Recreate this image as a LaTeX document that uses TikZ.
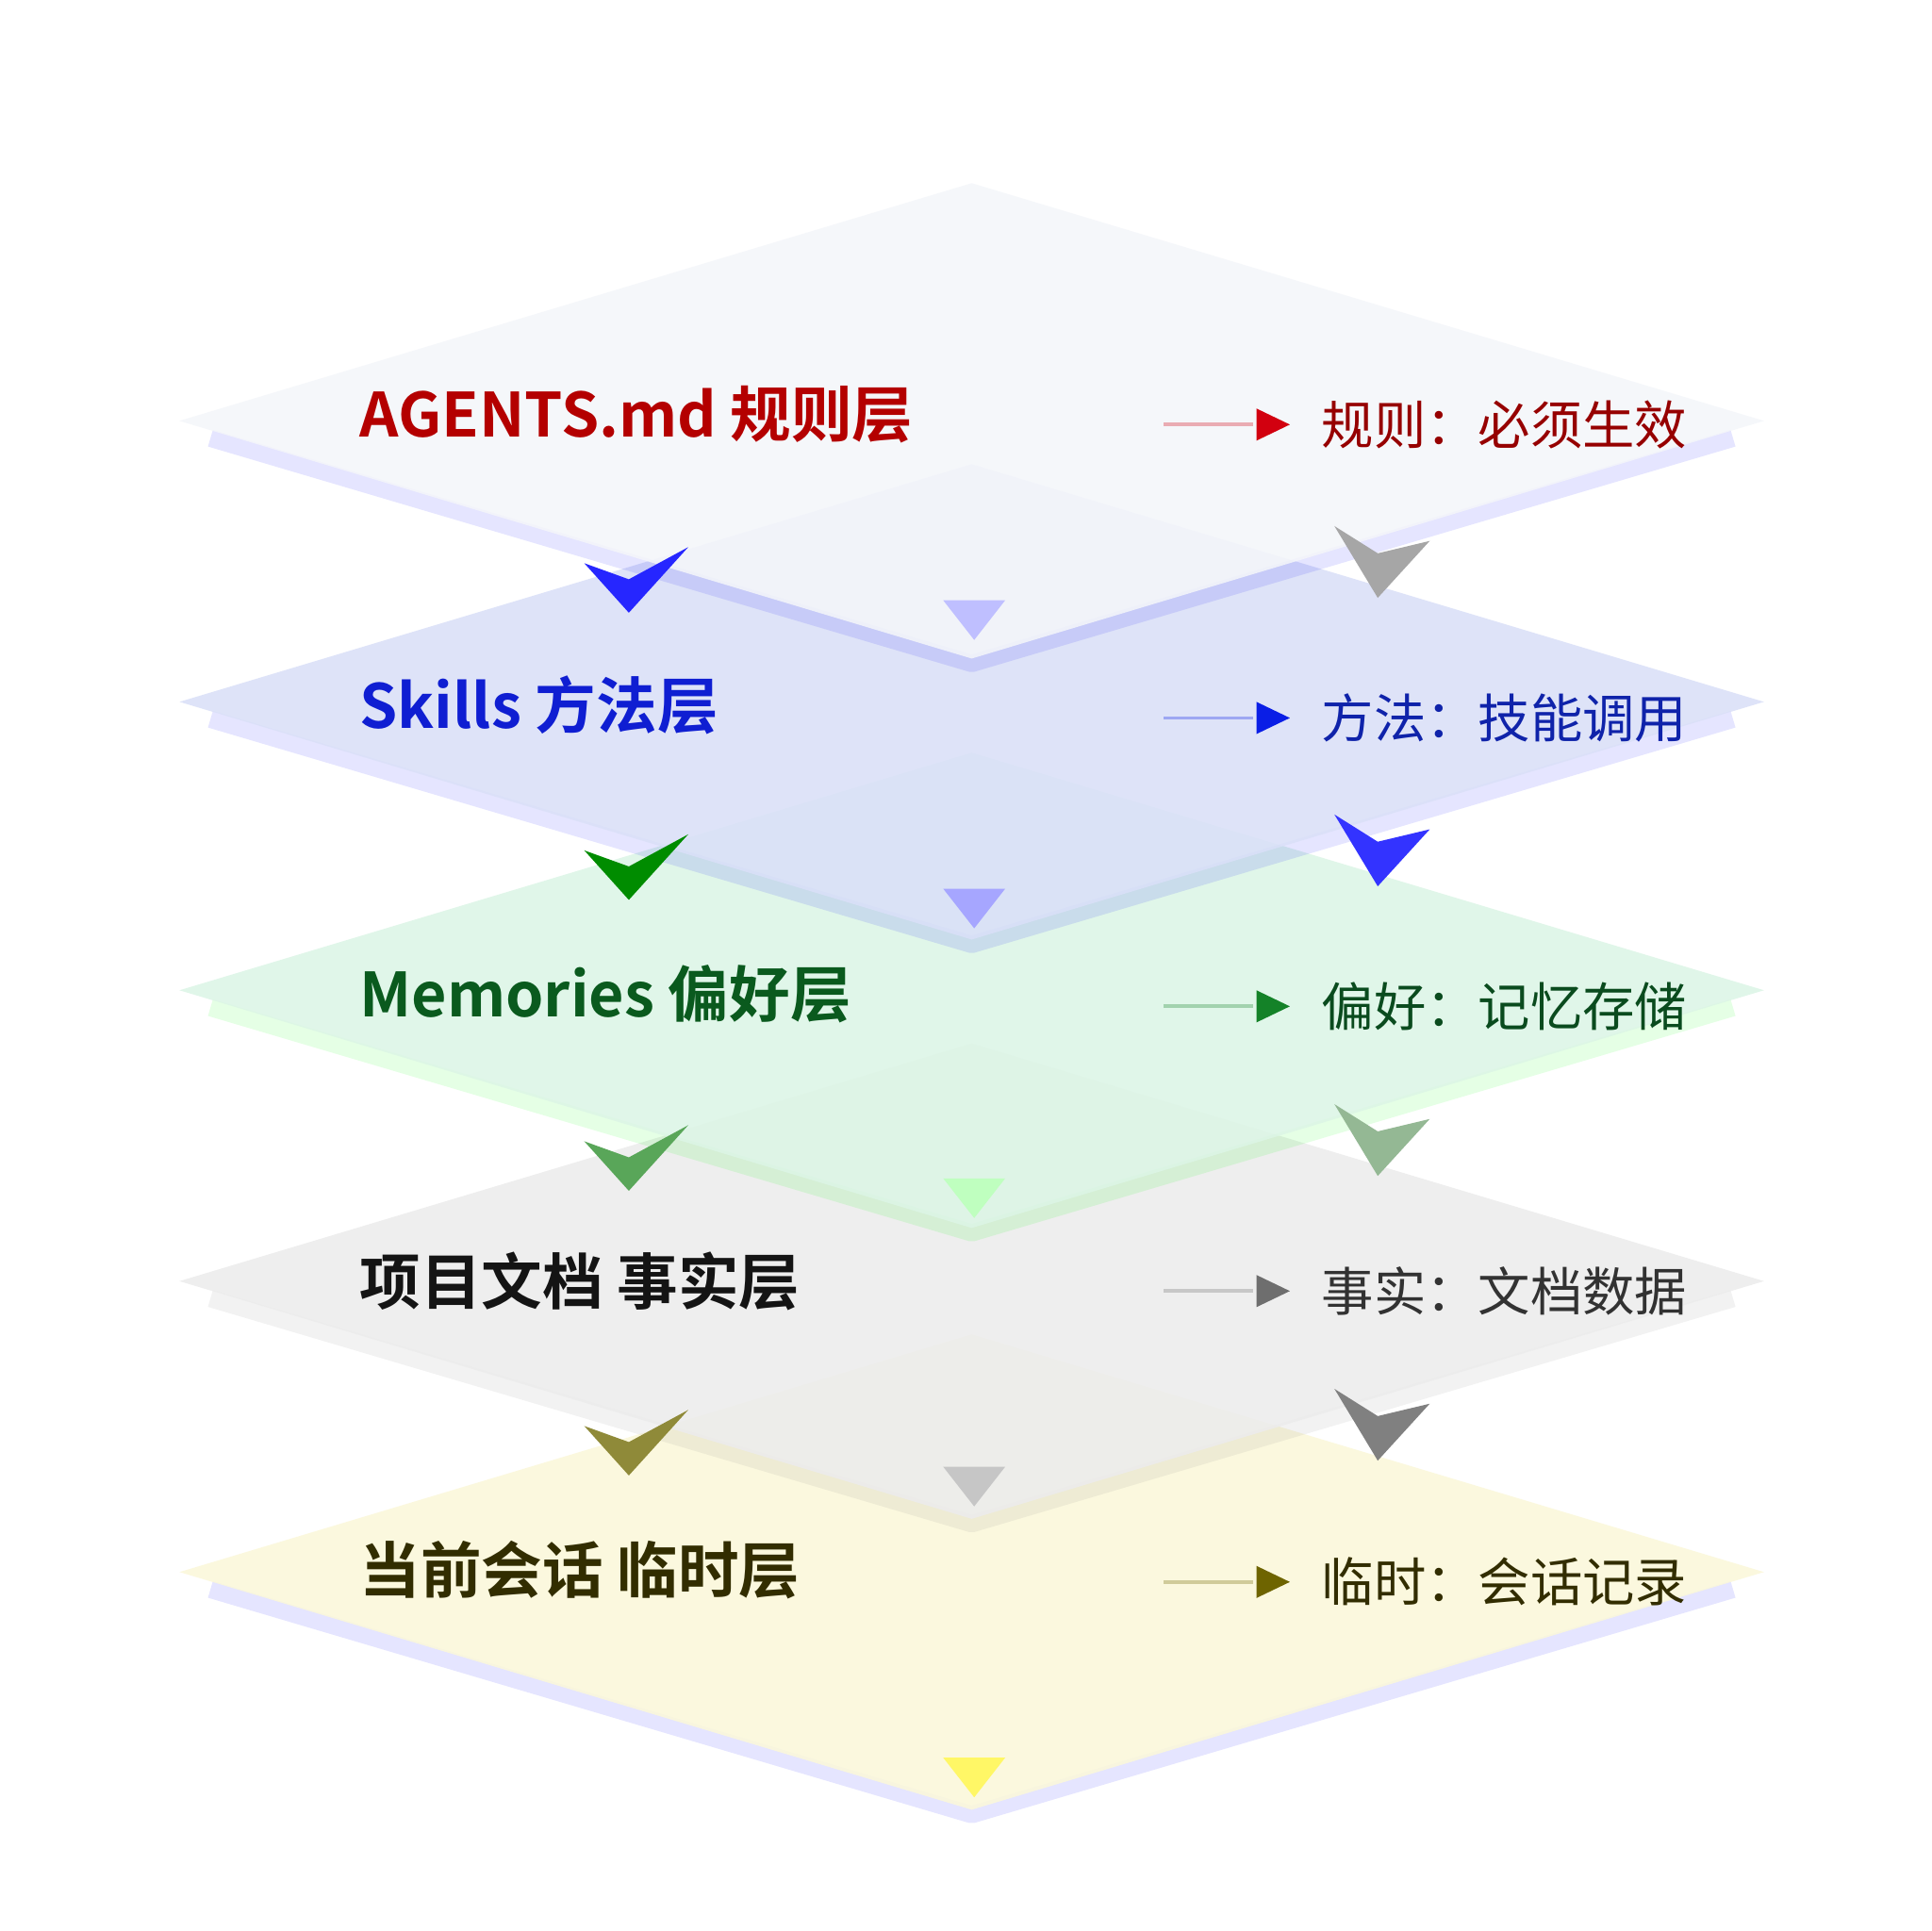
\documentclass[tikz,border=0pt]{standalone}
\usepackage{fontspec}
\setmainfont{Noto Sans CJK SC}
\newfontfamily\cjkb{Noto Sans CJK SC Bold}
\definecolor{t1}{RGB}{150,0,0}\definecolor{a1}{RGB}{210,0,15}
\definecolor{t2}{RGB}{15,35,170}\definecolor{a2}{RGB}{10,30,230}
\definecolor{t3}{RGB}{10,75,30}\definecolor{a3}{RGB}{20,130,40}
\definecolor{t4}{RGB}{50,50,50}\definecolor{a4}{RGB}{110,110,110}
\definecolor{t5}{RGB}{50,45,0}\definecolor{a5}{RGB}{110,100,0}
\definecolor{l1}{RGB}{180,0,0}\definecolor{l2}{RGB}{15,30,210}
\definecolor{l3}{RGB}{10,90,30}\definecolor{l4}{RGB}{20,20,20}
\definecolor{l5}{RGB}{50,45,0}
\definecolor{f1}{RGB}{244,246,250}\definecolor{f2}{RGB}{218,224,248}
\definecolor{f3}{RGB}{220,245,230}\definecolor{f4}{RGB}{236,236,236}
\definecolor{f5}{RGB}{251,248,218}
\begin{document}
\begin{tikzpicture}[x=0.1mm,y=-0.1mm,
  layer/.style={fill=#1,draw=none,opacity=0.88},
  glow/.style={draw=#1,line width=4pt,opacity=0.1,line join=round},
  lt/.style={font=\cjkb\fontsize{14pt}{16pt}\selectfont,anchor=west,inner sep=0},
  rt/.style={font=\fontsize{12pt}{14pt}\selectfont,anchor=west,inner sep=0}]
\fill[white] (0,0) rectangle (1560,1560);
\useasboundingbox (0,0) rectangle (1560,1560);
\foreach \yc/\col/\gl in {1270/f5/blue,1035/f4/gray,800/f3/green,567/f2/blue,340/f1/blue}{
  \draw[glow=\gl] (170,\yc+14) -- (785,\yc+196) -- (1400,\yc+14);
  \fill[layer=\col] (145,\yc) -- (785,\yc-192) -- (1425,\yc) -- (785,\yc+192) -- cycle;
}
\foreach \yt/\col in {485/blue!25,718/blue!35,952/green!25,1185/gray!45,1420/yellow!60}{
  \fill[\col] (762,\yt) -- (812,\yt) -- (787,\yt+32) -- cycle;
}
\foreach \yt/\col in {430/blue!85,662/green!55!black,897/green!30!gray,1127/olive!60!gray}{
  \fill[\col] (472,\yt+25) -- (508,\yt+38) -- (556,\yt+12) -- (508,\yt+65) -- cycle;
}
\foreach \yt/\col in {425/gray!70,658/blue!80,892/green!20!gray!70,1122/gray}{
  \fill[\col] (1078,\yt) -- (1113,\yt+22) -- (1155,\yt+12) -- (1113,\yt+58) -- cycle;
}
\node[lt,text=l1] (L1) at (290,335) {AGENTS.md 规则层};
\node[lt,text=l2] (L2) at (290,570) {Skills 方法层};
\node[lt,text=l3] (L3) at (290,803) {Memories 偏好层};
\node[lt,text=l4] (L4) at (290,1035) {项目文档 事实层};
\node[lt,text=l5] (L5) at (290,1268) {当前会话 临时层};
\foreach \i/\yy/\txt in {1/343/{规则：必须生效},2/580/{方法：技能调用},3/813/{偏好：记忆存储},4/1043/{事实：文档数据},5/1278/{临时：会话记录}}{
  \coordinate (s\i) at (940,\yy);
  \coordinate (e\i) at (1012,\yy);
  \draw[a\i,opacity=0.3,line width=0.8pt] (s\i) -- (e\i);
  \fill[a\i] (1015,\yy-13) -- (1042,\yy) -- (1015,\yy+13) -- cycle;
  \node[rt,text=t\i] (R\i) at (1067,\yy) {\txt};
}
\end{tikzpicture}
\end{document}
